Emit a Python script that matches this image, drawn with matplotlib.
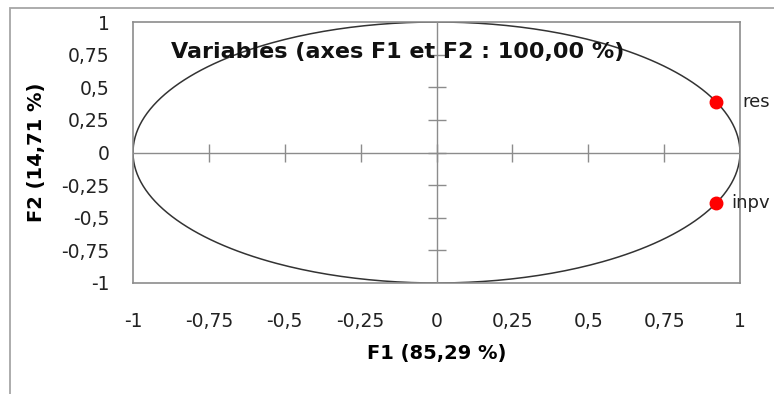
import numpy as np
import matplotlib.pyplot as plt
from matplotlib.patches import Rectangle

plt.rcParams['font.family'] = ['DejaVu Sans']

# correlations of the variables with F1 / F2
var_names = ['res', 'inpv']
f1 = [0.92, 0.92]
f2 = [0.39, -0.385]
ticks = [-1, -0.75, -0.5, -0.25, 0, 0.25, 0.5, 0.75, 1]
tick_labels = ['-1', '-0,75', '-0,5', '-0,25', '0', '0,25', '0,5', '0,75', '1']

fig = plt.figure(figsize=(7.74, 3.94), dpi=100)
W, H = 774, 394
ax = fig.add_axes([133/W, 1-283/H, (740-133)/W, (283-22)/H])

# outer chart frame
fig.patches.append(Rectangle((10/W, -0.1), 1.2, 1-8/H+0.1, transform=fig.transFigure,
                             fill=False, ec='#a6a6a6', lw=1.3))

gray = '#8c8c8c'
for s in ax.spines.values():
    s.set_color(gray)
    s.set_linewidth(1.2)

# unit circle
a = np.linspace(0, 2*np.pi, 400)
ax.plot(np.cos(a), np.sin(a), color='#333333', lw=1.1)

# centre axes with crossing ticks
ax.axhline(0, color=gray, lw=1)
ax.axvline(0, color=gray, lw=1)
ax.plot(ticks[1:-1], np.zeros(len(ticks)-2), ls='none', marker='|', ms=13, mew=1, color=gray)
ax.plot(np.zeros(len(ticks)-2), ticks[1:-1], ls='none', marker='_', ms=13, mew=1, color=gray)

ax.plot(f1, f2, 'o', color='#ff0000', ms=9, clip_on=False, zorder=5)
label_dx = {'res': 19, 'inpv': 11.5}
for x, y, n in zip(f1, f2, var_names):
    ax.annotate(n, (x, y), xytext=(label_dx[n], 0), textcoords='offset points',
                va='center', ha='left', fontsize=13, color='#222222', annotation_clip=False)

ax.set_xlim(-1, 1)
ax.set_ylim(-1, 1)
ax.set_xticks(ticks)
ax.set_xticklabels(tick_labels)
ax.set_yticks(ticks)
ax.set_yticklabels(tick_labels)
ax.tick_params(length=0, labelsize=13.5, colors='#222222')
ax.tick_params(axis='x', pad=21)
ax.tick_params(axis='y', pad=17)

ax.text((398-133)/(740-133), 1-(52-22)/(283-22), 'Variables (axes F1 et F2 : 100,00 %)',
        transform=ax.transAxes, ha='center', va='center', fontsize=16,
        fontweight='bold', color='#111111')
ax.set_xlabel('F1 (85,29 %)', fontsize=14, fontweight='bold', labelpad=9)
ax.set_ylabel('F2 (14,71 %)', fontsize=14, fontweight='bold', labelpad=11)

fig.savefig('out.png', dpi=100)
